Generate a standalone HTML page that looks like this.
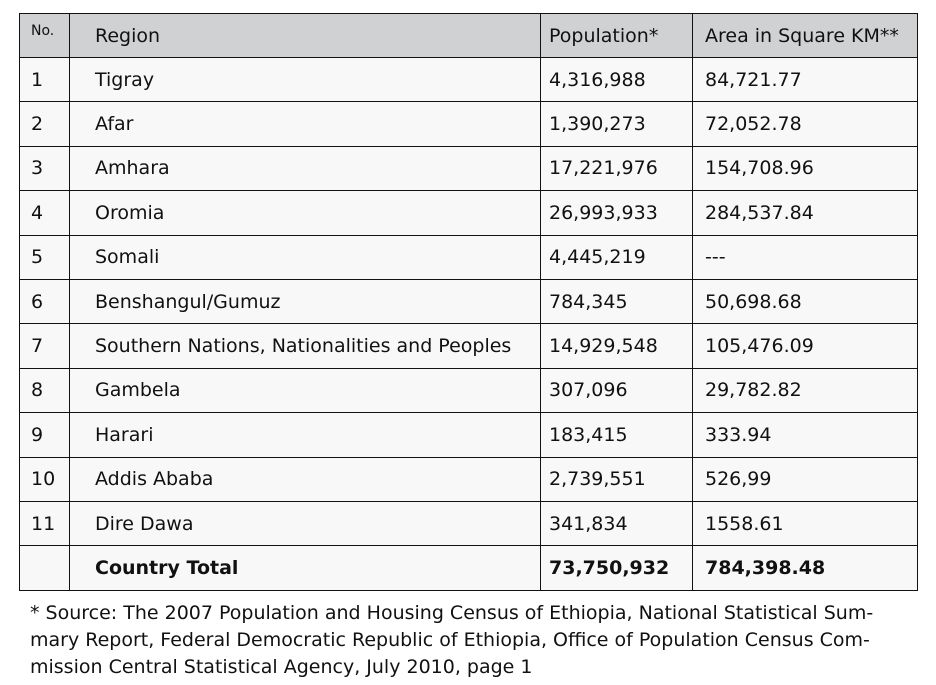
<!DOCTYPE html>
<html><head><meta charset="utf-8"><style>
body{margin:0;width:936px;height:685px;background:#fff;font-family:"DejaVu Sans","Liberation Sans",sans-serif;color:#111;position:relative;overflow:hidden}
table{position:absolute;left:19px;top:13px;border-collapse:collapse;width:899px;background:#f8f8f8}
td{border:1px solid #111;height:44.4px;padding:0;font-size:19px;vertical-align:middle;white-space:nowrap}
tr.h td{background:#d0d1d3;height:44px}
td.n{width:50px;padding-left:11px;box-sizing:border-box}
td.r{width:471px;padding-left:25px;box-sizing:border-box}
td.p{width:152px;padding-left:8px;box-sizing:border-box}
td.a{padding-left:12px;box-sizing:border-box}
tr.t td{font-weight:bold}
.note{position:absolute;left:30px;top:600px;width:900px;font-size:19px;line-height:27px}
</style></head><body>
<table>
<tr class="h"><td class="n" style="font-size:14px;vertical-align:top;padding-top:9px">No.</td><td class="r">Region</td><td class="p">Population*</td><td class="a">Area in Square KM**</td></tr>
<tr><td class="n">1</td><td class="r">Tigray</td><td class="p">4,316,988</td><td class="a">84,721.77</td></tr>
<tr><td class="n">2</td><td class="r">Afar</td><td class="p">1,390,273</td><td class="a">72,052.78</td></tr>
<tr><td class="n">3</td><td class="r">Amhara</td><td class="p">17,221,976</td><td class="a">154,708.96</td></tr>
<tr><td class="n">4</td><td class="r">Oromia</td><td class="p">26,993,933</td><td class="a">284,537.84</td></tr>
<tr><td class="n">5</td><td class="r">Somali</td><td class="p">4,445,219</td><td class="a">---</td></tr>
<tr><td class="n">6</td><td class="r">Benshangul/Gumuz</td><td class="p">784,345</td><td class="a">50,698.68</td></tr>
<tr><td class="n">7</td><td class="r">Southern Nations, Nationalities and Peoples</td><td class="p">14,929,548</td><td class="a">105,476.09</td></tr>
<tr><td class="n">8</td><td class="r">Gambela</td><td class="p">307,096</td><td class="a">29,782.82</td></tr>
<tr><td class="n">9</td><td class="r">Harari</td><td class="p">183,415</td><td class="a">333.94</td></tr>
<tr><td class="n">10</td><td class="r">Addis Ababa</td><td class="p">2,739,551</td><td class="a">526,99</td></tr>
<tr><td class="n">11</td><td class="r">Dire Dawa</td><td class="p">341,834</td><td class="a">1558.61</td></tr>
<tr class="t"><td class="n"></td><td class="r">Country Total</td><td class="p">73,750,932</td><td class="a">784,398.48</td></tr>
</table>
<div class="note">* Source: The 2007 Population and Housing Census of Ethiopia, National Statistical Sum-<br>mary Report, Federal Democratic Republic of Ethiopia, Office of Population Census Com-<br>mission Central Statistical Agency, July 2010, page 1</div>
</body></html>
